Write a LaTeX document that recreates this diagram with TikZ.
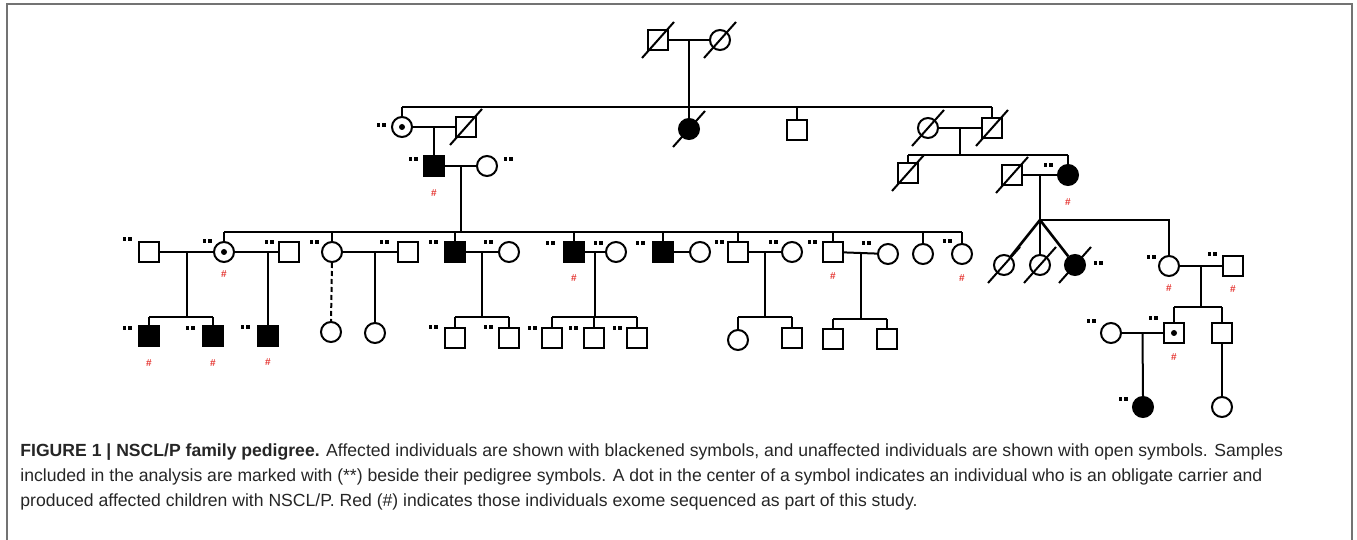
\documentclass[tikz,border=0pt]{standalone}
\usepackage{fontspec}
\setmainfont{Liberation Sans}
\usepackage{xcolor}
\usepackage{tikz}
\usetikzlibrary{calc}
\definecolor{seqred}{HTML}{E53935}
\newcommand{\smpmark}{\rule{1.6pt}{1.6pt}\hspace{1.3pt}\rule{1.6pt}{1.6pt}}

\begin{document}
\begin{tikzpicture}[x=0.5pt, y=-0.5pt,
  person/.style={draw, line width=1pt, minimum size=10pt, inner sep=0pt},
  male/.style={person, rectangle},
  female/.style={person, circle},
  aff/.style={fill=black},
  carrier/.style={path picture={\fill (path picture bounding box.center) circle (1.5pt);}},
  rel/.style={line width=1pt},
  twin/.style={line width=1.3pt},
  smp/.style={inner sep=0pt},
  seq/.style={inner sep=0pt, text=seqred, font=\fontsize{5}{5}\selectfont\bfseries},
  frame/.style={line width=1pt, draw=black!55},
  caption/.style={inner sep=0pt, align=left, anchor=north west,
                  font=\fontsize{8.8}{12.5}\selectfont, text=black!85},
]
\useasboundingbox (0,0) rectangle (1357,540);
\draw[frame] (6.5,540) -- (6.5,4.5) -- (1352,4.5) -- (1352,540);

% generation I
\node[male]              (i1)   at (658,40)  {};
\node[female]            (i2)   at (720,40)  {};
% generation II
\node[female, carrier]   (ii1)  at (402,127) {};
\node[male]              (ii2)  at (466,127) {};
\node[female, aff]       (ii3)  at (689,129) {};
\node[male]              (ii4)  at (797,130) {};
\node[female]            (ii5)  at (928,128) {};
\node[male]              (ii6)  at (992,128) {};
% generation III
\node[male, aff]         (iii1) at (434,166) {};
\node[female]            (iii2) at (487,166) {};
\node[male]              (iii3) at (908,173) {};
\node[male]              (iii4) at (1012,175) {};
\node[female, aff]       (iii5) at (1068,175) {};
% generation IV
\node[male]              (iv1)  at (149,252) {};
\node[female, carrier]   (iv2)  at (224,252) {};
\node[male]              (iv3)  at (289,252) {};
\node[female]            (iv4)  at (332,252) {};
\node[male]              (iv5)  at (408,252) {};
\node[male, aff]         (iv6)  at (455,252) {};
\node[female]            (iv7)  at (509,252) {};
\node[male, aff]         (iv8)  at (574,252) {};
\node[female]            (iv9)  at (616,252) {};
\node[male, aff]         (iv10) at (663,252) {};
\node[female]            (iv11) at (700,252) {};
\node[male]              (iv12) at (738,252) {};
\node[female]            (iv13) at (792,252) {};
\node[male]              (iv14) at (833,252) {};
\node[female]            (iv15) at (888,254) {};
\node[female]            (iv16) at (923,254) {};
\node[female]            (iv17) at (962,254) {};
% generation V
\node[male, aff]         (v1)   at (149,336) {};
\node[male, aff]         (v2)   at (213,336) {};
\node[male, aff]         (v3)   at (268,336) {};
\node[female]            (v4)   at (331,332) {};
\node[female]            (v5)   at (375,333) {};
\node[male]              (v6)   at (455,338) {};
\node[male]              (v7)   at (509,338) {};
\node[male]              (v8)   at (552,338) {};
\node[male]              (v9)   at (594,338) {};
\node[male]              (v10)  at (637,338) {};
\node[female]            (v11)  at (738,340) {};
\node[male]              (v12)  at (792,338) {};
\node[male]              (v13)  at (833,339) {};
\node[male]              (v14)  at (887,339) {};
% twins and right branch
\node[female]            (t1)   at (1004,265) {};
\node[female]            (t2)   at (1040,265) {};
\node[female, aff]       (t3)   at (1075,265) {};
\node[female]            (r1)   at (1169,266) {};
\node[male]              (r2)   at (1233,266) {};
\node[male, carrier]     (r3)   at (1174,333) {};
\node[male]              (r4)   at (1222,333) {};
\node[female]            (r5)   at (1111,333) {};
\node[female, aff]       (r6)   at (1143,407) {};
\node[female]            (r7)   at (1222,407) {};

% sibship levels
\coordinate (sb2) at (0,107);
\coordinate (sb3) at (0,155);
\coordinate (sb4) at (0,232);
\coordinate (sb5) at (0,317);
\coordinate (sb6) at (0,319);
\coordinate (sbt) at (0,220);
\coordinate (sbr) at (0,307);

% marriages
\foreach \a/\b in {i1/i2, ii1/ii2, ii5/ii6, iii1/iii2, iii4/iii5, iv1/iv2, iv2/iv3,
                   iv4/iv5, iv6/iv7, iv8/iv9, iv10/iv11, iv12/iv13, iv14/iv15, r1/r2, r5/r3}
  { \draw[rel] (\a) -- (\b); }

% descent to a sibship line
\foreach \a/\b/\s in {iii1/iii2/sb4, ii5/ii6/sb3, iv1/iv2/sb5, iv6/iv7/sb5, iv8/iv9/sb5,
                      iv12/iv13/sb5, iv14/iv15/sb6, r1/r2/sbr}
  { \path ($(\a)!0.5!(\b)$) coordinate (m);
    \draw[rel] (m) -- (m |- \s); }

% sibship lines
\foreach \f/\l/\s in {ii1/ii6/sb2, iv2/iv17/sb4, iii3/iii5/sb3, v1/v2/sb5, v6/v7/sb5,
                      v8/v10/sb5, v11/v12/sb5, v13/v14/sb6, r3/r4/sbr}
  { \draw[rel] (\f |- \s) -- (\l |- \s); }
\foreach \c/\s in {ii1/sb2, ii4/sb2, ii6/sb2, iii3/sb3, iii5/sb3,
                   iv2/sb4, iv4/sb4, iv6/sb4, iv8/sb4, iv10/sb4, iv12/sb4, iv14/sb4, iv16/sb4, iv17/sb4,
                   v1/sb5, v2/sb5, v6/sb5, v7/sb5, v8/sb5, v9/sb5, v10/sb5, v11/sb5, v12/sb5,
                   v13/sb6, v14/sb6, r3/sbr, r4/sbr}
  { \draw[rel] (\c.north) -- (\c |- \s); }

% single children
\draw[rel] ($(i1)!0.5!(i2)$) -- (ii3.north);
\draw[rel] ($(ii1)!0.5!(ii2)$) -- (iii1.north);
\draw[rel] (v3 |- iv2) -- (v3.north);
\draw[rel] (v5 |- iv4) -- (v5.north);
\draw[rel, dash pattern=on 2.5pt off 1.5pt] (iv4.south) -- (v4.north);
\draw[rel] ($(r5)!0.5!(r3)$) -- (r6.north);
\draw[rel] (r4.south) -- (r7.north);

% twins
\path ($(iii4)!0.5!(iii5)$) coordinate (mt);
\coordinate (tw) at (mt |- sbt);
\draw[rel] (mt) -- (tw);
\foreach \t in {t1, t2, t3} { \draw[twin] (tw) -- (\t); }
\draw[rel] (tw) -| (r1.north);

% deceased
\foreach \n in {i1, i2, ii2, ii3, ii5, ii6, iii3, iii4, t1, t2, t3}
  { \draw[rel] ($(\n)+(-16,18)$) -- ($(\n)+(16,-18)$); }

% sampled (**)
\foreach \n/\dx/\dy in {ii1/-21/-2, iii1/-21/-7, iii2/21/-7, iii5/-20/-10,
                        iv1/-22/-13, iv2/-17/-11, iv3/-20/-10, iv4/-18/-10, iv5/-24/-10,
                        iv6/-22/-10, iv7/-21/-10, iv8/-24/-9, iv9/-18/-9, iv10/-23/-9,
                        iv12/-19/-10, iv13/-19/-10, iv14/-21/-10, iv15/-22/-11, iv17/-15/-13,
                        v1/-22/-8, v2/-23/-8, v3/-23/-9, v6/-22/-11, v7/-21/-11,
                        v8/-20/-10, v9/-21/-10, v10/-20/-10,
                        t3/23/-2, r1/-18/-9, r2/-21/-12, r3/-21/-15, r5/-20/-12, r6/-20/-8}
  { \node[smp] (\n s) at ($(\n)+(\dx,\dy)$) {\smpmark}; }

% exome sequenced (#)
\foreach \n/\dy in {iii1/27, iii5/27, iv2/22, iv8/26, iv14/24, iv17/24,
                    v1/27, v2/27, v3/26, r1/22, r2/23, r3/24}
  { \node[seq] (\n h) at ($(\n)+(0,\dy)$) {\#}; }

\node[caption] (cap) at (20,443)
  {\textbf{FIGURE 1 | NSCL/P family pedigree.} Affected individuals are shown with blackened symbols, and unaffected individuals are shown with open symbols. Samples\\
   included in the analysis are marked with (**) beside their pedigree symbols. A dot in the center of a symbol indicates an individual who is an obligate carrier and\\
   produced affected children with NSCL/P. Red (\#) indicates those individuals exome sequenced as part of this study.};

\end{tikzpicture}
\end{document}
